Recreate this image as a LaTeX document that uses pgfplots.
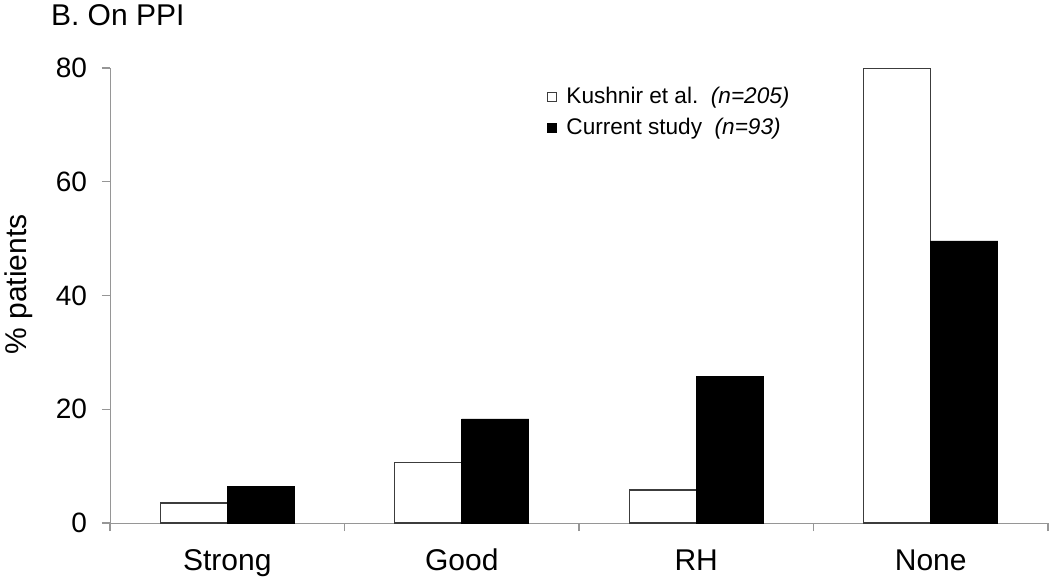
\documentclass[border=0pt]{standalone}
\usepackage{pgfplots}
\pgfplotsset{compat=1.18}
\usepackage{fontspec}
\setmainfont{Liberation Sans}
\definecolor{axisgray}{RGB}{150,150,150}
\definecolor{edge}{RGB}{60,60,60}

\pgfplotstableread{
x  kushnir current
0  3.5     6.5
1  10.7    18.3
2  5.8     25.8
3  80.0    49.6
}\ppidata

\begin{document}
\begin{tikzpicture}
\path[use as bounding box] (0,0) rectangle (525pt,290pt);
\node[anchor=base west,font=\fontsize{15}{17}\selectfont] at (22pt,277pt) {B. On PPI};
\node[rotate=90,font=\fontsize{15}{17}\selectfont] at (9.5pt,147.75pt) {\% patients};
\begin{axis}[
  at={(55pt,28.5pt)}, anchor=south west,
  scale only axis, width=469pt, height=227.5pt,
  xmin=-0.5, xmax=3.5, ymin=0, ymax=80,
  axis x line=bottom, axis y line=left,
  axis line style={draw=axisgray,-},
  tick style={draw=axisgray,line width=0.6pt},
  tick align=outside,
  ytick={0,20,40,60,80},
  major tick length=4pt,
  xtick={0,1,2,3},
  xticklabels={Strong,Good,RH,None},
  xtick style={/pgfplots/major tick length=0pt},
  minor xtick={-0.5,0.5,1.5,2.5,3.5},
  minor tick length=4pt,
  x tick label style={font=\fontsize{15}{17}\selectfont,text height=11pt,text depth=3pt,yshift=-5pt},
  y tick label style={font=\fontsize{14}{16}\selectfont,xshift=-4pt},
  /pgf/number format/assume math mode=true,
  legend style={at={(0.465,0.965)},anchor=north west,draw=none,fill=none,
    font=\fontsize{11.3}{13}\selectfont,inner sep=0pt,row sep=2.5pt,
    nodes={inner sep=1.5pt}},
  legend cell align=left,
]
\addlegendimage{legend image code/.code={\draw[edge,fill=white,line width=0.5pt] (0pt,-2.25pt) rectangle (4.5pt,2.25pt);\path (8pt,0pt);}}
\addlegendentry{Kushnir et al.\ \ \textit{(n=205)}}
\addlegendimage{legend image code/.code={\draw[black,fill=black] (0pt,-2.25pt) rectangle (4.5pt,2.25pt);\path (8pt,0pt);}}
\addlegendentry{Current study\ \ \textit{(n=93)}}
\addplot[ybar,bar width=0.286,bar shift=-0.143,draw=edge,fill=white,line width=0.6pt,forget plot]
  table[x=x,y=kushnir]{\ppidata};
\addplot[ybar,bar width=0.286,bar shift=0.143,draw=black,fill=black,forget plot]
  table[x=x,y=current]{\ppidata};
\end{axis}
\end{tikzpicture}
\end{document}
